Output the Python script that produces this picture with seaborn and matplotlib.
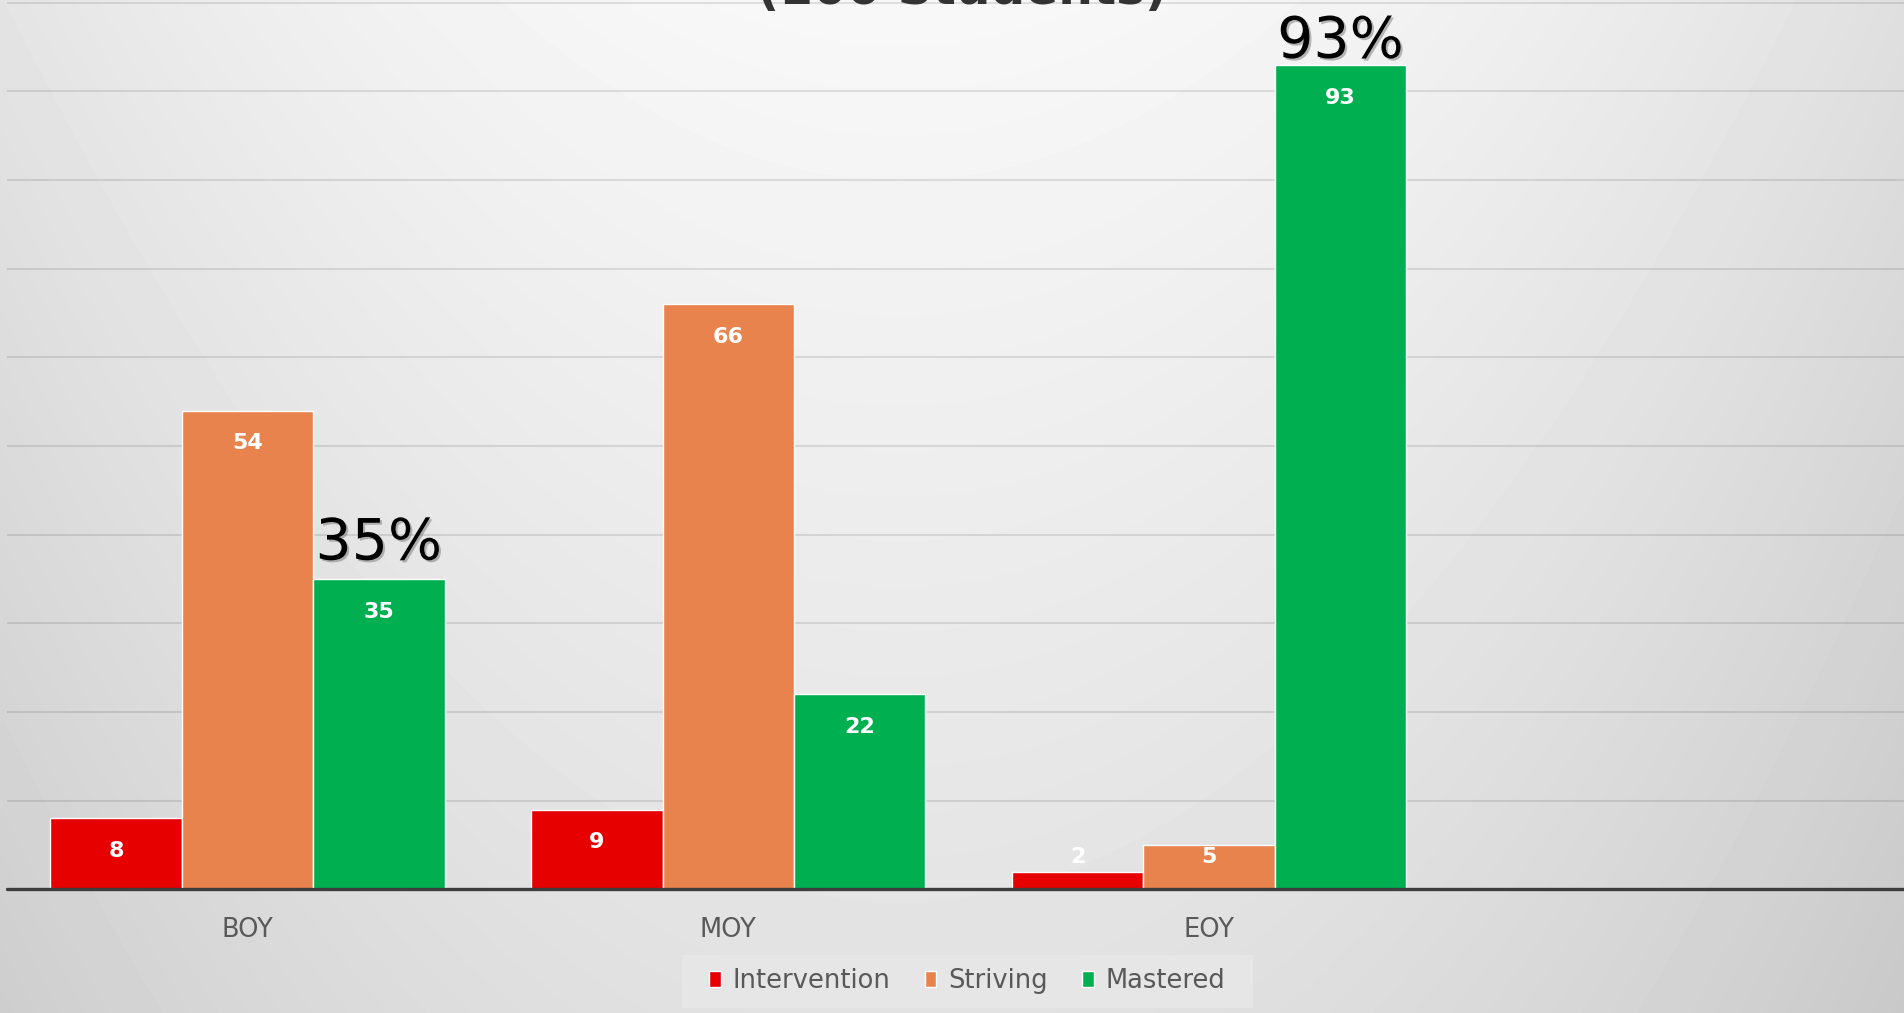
import numpy as np
import pandas as pd
import matplotlib
matplotlib.use('Agg')
import matplotlib.pyplot as plt
import matplotlib.patheffects as pe
from matplotlib.patches import Patch, Rectangle
import seaborn as sns

# ============================================================
# DATA
# ============================================================
periods = ['BOY', 'MOY', 'EOY']
levels = ['Intervention', 'Striving', 'Mastered']
intervention = [8, 9, 2]
striving = [54, 66, 5]
mastered = [35, 22, 93]
callout_periods = ['BOY', 'EOY']
callout_labels = ['35%', '93%']
title_text = '(100 Students)'

level_colors = ['#E60000', '#E8834E', '#00B050']
callout_offsets = [14, 5]   # points above the bar top

df = pd.DataFrame({
    'Period': periods * 3,
    'Level': np.repeat(levels, len(periods)),
    'Students': intervention + striving + mastered,
})

# ============================================================
# FIGURE
# ============================================================
sns.set_theme(style='white')
plt.rcParams['font.family'] = ['DejaVu Sans']

W, H = 1904, 1013
fig = plt.figure(figsize=(W / 100, H / 100), dpi=100)

# --- grey gradient background ---
bg = fig.add_axes([0, 0, 1, 1], zorder=-10)
xx, yy = np.meshgrid(np.linspace(0, W, 400), np.linspace(0, H, 220))
shade = 248 - 22.3 * ((xx - 900) / 950) ** 2 - 22 * (yy / 1000)
bg.imshow(shade, cmap='gray', vmin=0, vmax=255, aspect='auto',
          extent=[0, 1, 0, 1], origin='upper', interpolation='bilinear')
bg.set_axis_off()

# --- bars ---
base_px = 889.3
ax = fig.add_axes([7 / W, 1 - base_px / H, 1 - 7 / W, base_px / H])
ax.set_facecolor('none')
sns.barplot(data=df, x='Period', y='Students', hue='Level', order=periods,
            hue_order=levels, palette=level_colors, width=0.82, saturation=1,
            edgecolor='white', linewidth=1, legend=False, ax=ax)

ax.set_xlim(-0.5, 3.445)
ax.set_ylim(0, 100.3)
ax.set_yticks(np.arange(10, 101, 10))
ax.yaxis.grid(True, color='black', alpha=0.1, lw=1.5)
ax.set_axisbelow(True)
for s in ax.spines.values():
    s.set_visible(False)
ax.axhline(0, color='#3d3d3d', lw=2.4, zorder=5, clip_on=False)
ax.set_xlabel('')
ax.set_ylabel('')
ax.tick_params(axis='y', left=False, labelleft=False)
ax.tick_params(axis='x', length=0, pad=20, labelsize=18.5, labelcolor='#595959')

# --- value labels inside bars ---
for cont in ax.containers:
    for bar in cont:
        v = bar.get_height()
        ax.text(bar.get_x() + bar.get_width() / 2, max(v - 3.7, 3.6), f'{v:.0f}',
                ha='center', va='center', color='white', fontsize=16,
                fontweight='bold', zorder=6)

# --- big percentage callouts ---
mastered_bars = ax.containers[levels.index('Mastered')]
for period, label, dy in zip(callout_periods, callout_labels, callout_offsets):
    bar = mastered_bars[periods.index(period)]
    ax.annotate(label, (bar.get_x() + bar.get_width() / 2, bar.get_height()),
                xytext=(0, dy), textcoords='offset points', ha='center',
                va='baseline', fontsize=41, color='black', zorder=7,
                path_effects=[pe.withSimplePatchShadow(offset=(1.5, -1.5),
                                                       shadow_rgbFace='#777777',
                                                       alpha=0.5)])

# --- title (cut off at top of screenshot, as in the source) ---
fig.text(962 / W, 1 - 4 / H, title_text, ha='center', va='baseline',
         fontsize=35, fontweight='bold', color='#333333')

# --- legend ---
fig.patches.append(Rectangle((682 / W, 1 - 1008 / H), 571 / W, 53 / H,
                             transform=fig.transFigure, facecolor='#e6e6e6',
                             edgecolor='none', zorder=0))
handles = [Patch(facecolor=c, label=l) for c, l in zip(level_colors, levels)]
fig.legend(handles=handles, loc='center', bbox_to_anchor=(967 / W, 1 - 981 / H),
           ncol=3, frameon=False, fontsize=18.5, handlelength=0.45,
           handleheight=0.6, handletextpad=0.45, columnspacing=1.35,
           labelcolor='#595959')

fig.savefig('out.png', dpi=100)
